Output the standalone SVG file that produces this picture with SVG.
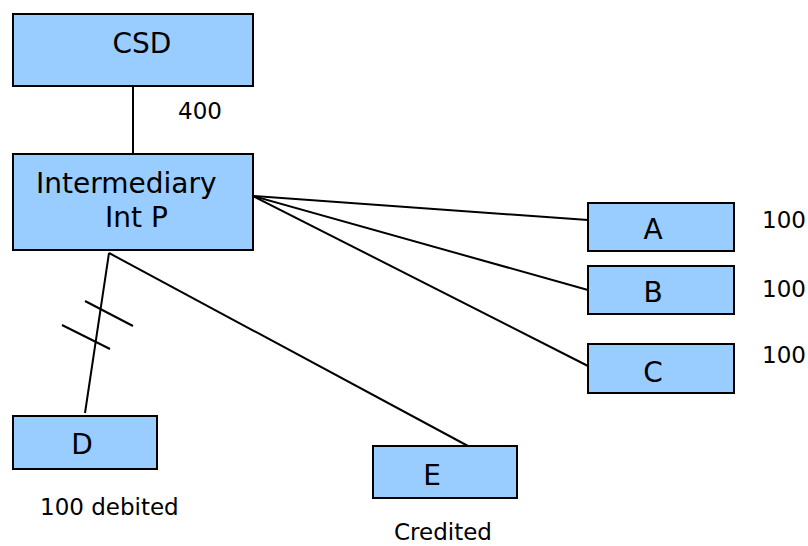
<svg xmlns="http://www.w3.org/2000/svg" width="808" height="546" viewBox="0 0 808 546">
  <style>
    .box { fill: #99ccff; stroke: #000; stroke-width: 2; }
    .lbl { font-family: "DejaVu Sans", Verdana, sans-serif; font-size: 28px; fill: #000; }
    .note { font-family: "DejaVu Sans", Verdana, sans-serif; font-size: 23px; fill: #000; }
    .wire { stroke: #000; stroke-width: 2; fill: none; }
  </style>
  <rect width="808" height="546" fill="#fff"/>

  <g id="connectors">
    <line class="wire" x1="133" y1="86" x2="133" y2="154"/>
    <line class="wire" x1="253" y1="196" x2="588" y2="220"/>
    <line class="wire" x1="253" y1="196" x2="588" y2="290"/>
    <line class="wire" x1="253" y1="196" x2="588" y2="366"/>
    <line class="wire" x1="109" y1="253" x2="85" y2="413"/>
    <line class="wire" x1="109" y1="253" x2="468" y2="446"/>
    <!-- break marks on the link to D -->
    <line class="wire" x1="85" y1="301" x2="133" y2="326"/>
    <line class="wire" x1="62" y1="325" x2="110" y2="349"/>
  </g>

  <g id="csd">
    <rect class="box" x="13" y="14" width="240" height="72"/>
    <text class="lbl" x="142" y="53" text-anchor="middle">CSD</text>
  </g>
  <text class="note" x="178" y="119">400</text>

  <g id="intermediary">
    <rect class="box" x="13" y="154" width="240" height="96"/>
    <text class="lbl" x="36" y="193">Intermediary</text>
    <text class="lbl" x="105" y="227">Int P</text>
  </g>

  <g id="node-a">
    <rect class="box" x="588" y="203" width="146" height="48"/>
    <text class="lbl" x="653" y="239" text-anchor="middle">A</text>
  </g>
  <text class="note" x="762" y="228">100</text>

  <g id="node-b">
    <rect class="box" x="588" y="266" width="146" height="48"/>
    <text class="lbl" x="653" y="302" text-anchor="middle">B</text>
  </g>
  <text class="note" x="762" y="297">100</text>

  <g id="node-c">
    <rect class="box" x="588" y="344" width="146" height="49"/>
    <text class="lbl" x="653" y="382" text-anchor="middle">C</text>
  </g>
  <text class="note" x="762" y="363">100</text>

  <g id="node-d">
    <rect class="box" x="13" y="416" width="144" height="53"/>
    <text class="lbl" x="82" y="454" text-anchor="middle">D</text>
  </g>
  <text class="note" x="40" y="515">100 debited</text>

  <g id="node-e">
    <rect class="box" x="373" y="446" width="144" height="52"/>
    <text class="lbl" x="432" y="485" text-anchor="middle">E</text>
  </g>
  <text class="note" x="394" y="540">Credited</text>
</svg>
